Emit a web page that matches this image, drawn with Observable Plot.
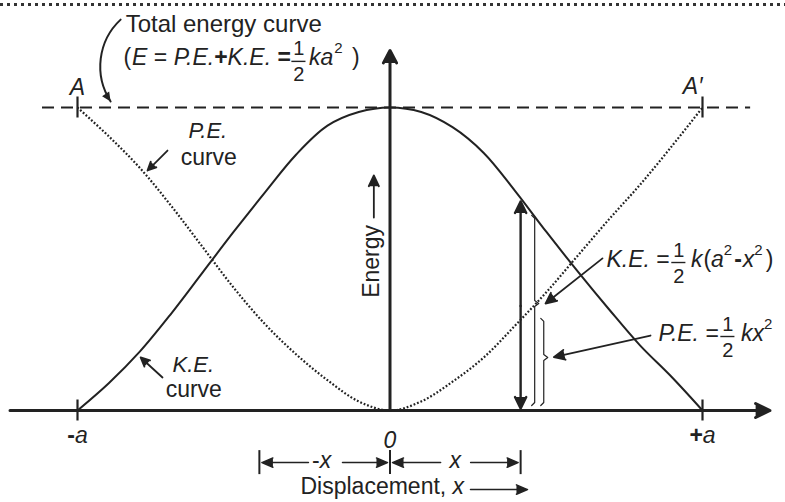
<!DOCTYPE html>
<html>
<head>
<meta charset="utf-8">
<script src="https://cdn.jsdelivr.net/npm/d3@7"></script>
<script src="https://cdn.jsdelivr.net/npm/@observablehq/plot@0.6"></script>
<style>
  body { margin: 0; background: #fff; }
  #chart { position: relative; width: 785px; height: 502px; }
  #chart::before {
    content: ""; position: absolute; left: 0; right: 0; top: 3px; height: 3px;
    background: repeating-linear-gradient(to right, #333 0 3px, transparent 3px 7px);
  }
</style>
</head>
<body>
<div id="chart"></div>
<script>
// Energy of a simple harmonic oscillator against displacement.
// Displacement is in units of the amplitude a, energy in units of E = ½ka².
const displacement   = [-1, -0.9, -0.8, -0.7, -0.6, -0.5, -0.4, -0.3, -0.2, -0.1, 0,
                         0.1, 0.2, 0.3, 0.4, 0.5, 0.6, 0.7, 0.8, 0.9, 1];
const kineticEnergy  = [0, 0.09, 0.195, 0.32, 0.455, 0.59, 0.72, 0.845, 0.94, 0.985, 1,
                        0.985, 0.935, 0.85, 0.725, 0.59, 0.46, 0.335, 0.215, 0.112, 0];
const potentialEnergy = [1, 0.905, 0.80, 0.675, 0.54, 0.405, 0.285, 0.185, 0.10, 0.03, 0,
                         0.03, 0.095, 0.175, 0.28, 0.39, 0.51, 0.63, 0.745, 0.87, 1];
const totalEnergy = 1;
const sampleX = 0.418;                 // the displacement x marked below the axis
const axisTicks = [-1, 0, 1];
const axisTickLabels = ["-a", "0", "+a"];
const turningPointLabels = ["A", "A′"];
// energy split at the sample displacement (K.E. brace, P.E. brace)
const braceColumns = [0.463, 0.492];
const braceTops    = [0.644, 0.304];
const braceCusps   = [0.353, 0.175];
const sampleKE = 0.69;

// ---- layout ----
const W = 785, H = 502;
const ML = 77, MR = 83, MT = 107, MB = 92;
const kx = (W - ML - MR) / 2, ky = (H - MT - MB);     // pixels per data unit
const ux = p => p / kx, uy = p => p / ky;
const INK = "#222";
const FONT = '"Liberation Sans", Arial, Helvetica, sans-serif';

const ctx = document.createElement("canvas").getContext("2d");
function textWidth(t, size, italic, bold) {
  ctx.font = `${italic ? "italic " : ""}${bold ? "bold " : ""}${size}px ${FONT}`;
  return ctx.measureText(t).width;
}
function label(x, y, t, o = {}) {
  return Plot.text([{x, y, t}], {
    x: "x", y: "y", text: "t", textAnchor: "start", lineAnchor: "bottom",
    fill: INK, fontFamily: FONT, fontSize: 23, ...o
  });
}
// Lays out a run of mixed italic / upright pieces, fractions and superscripts on one baseline.
function run(x, y, pieces, {size = 23, align = "start"} = {}) {
  const laid = [];
  let off = 0;
  for (const p of pieces) {
    off += p.gap ?? 0;
    if (p.frac) {
      const fs = p.size ?? size - 3;
      const w = Math.max(...p.frac.map(t => textWidth(t, fs))) + 5;
      laid.push({frac: p.frac, off, w, fs});
      off += w;
    } else if (p.sup) {
      const fs = p.size ?? 15;
      laid.push({t: p.sup, off, fs, dy: -(p.raise ?? 12)});
      off += textWidth(p.sup, fs);
    } else {
      const fs = p.size ?? size;
      laid.push({t: p.t, off, fs, i: p.i, b: p.b, dy: 0});
      off += textWidth(p.t, fs, p.i, p.b);
    }
  }
  const shift = align === "middle" ? -off / 2 : align === "end" ? -off : 0;
  const marks = [];
  for (const l of laid) {
    if (l.frac) {
      const cx = l.off + shift + l.w / 2;
      marks.push(label(x, y, l.frac[0], {dx: cx, dy: -10, fontSize: l.fs, textAnchor: "middle"}));
      marks.push(label(x, y, l.frac[1], {dx: cx, dy: 16, fontSize: l.fs, textAnchor: "middle"}));
      marks.push(Plot.ruleY([y], {x1: x + ux(l.off + shift + 1), x2: x + ux(l.off + shift + l.w - 1),
                                  dy: -4, stroke: INK, strokeWidth: 1.4}));
    } else {
      marks.push(label(x, y, l.t, {dx: l.off + shift, dy: l.dy, fontSize: l.fs,
        fontStyle: l.i ? "italic" : "normal", fontWeight: l.b ? "bold" : "normal"}));
    }
  }
  return marks;
}
function arrow(list, o = {}) {
  return Plot.arrow(list, {x1: "x1", y1: "y1", x2: "x2", y2: "y2",
    stroke: INK, fill: INK, strokeWidth: 1.6, headLength: 11, headAngle: 48, ...o});
}
function brace(xb, y0, y1, ym) {
  return [
    {x: xb - ux(3), y: y1}, {x: xb, y: y1 - uy(3)}, {x: xb, y: ym + uy(3)},
    {x: xb + ux(4), y: ym}, {x: xb, y: ym - uy(3)}, {x: xb, y: y0 + uy(3)}, {x: xb - ux(3), y: y0}
  ];
}

const curves = displacement.map((x, i) => ({x, ke: kineticEnergy[i], pe: potentialEnergy[i]}));
const rowY = -0.172, tick = uy(10.5), bar = uy(12);
const baseY = -0.106;
const braceBottom = 0.0165;

const marks = [
  // total energy level and turning points A, A'
  Plot.ruleY([totalEnergy], {x1: -1.112, x2: 1.154, stroke: INK, strokeWidth: 2, strokeDasharray: "12,7"}),
  Plot.ruleX([-1, 1], {y1: totalEnergy - tick, y2: totalEnergy + tick, stroke: INK, strokeWidth: 2.2}),
  // P.E. (dotted) and K.E. (solid) curves
  Plot.line(curves, {x: "x", y: "pe", curve: "catmull-rom", stroke: INK, strokeWidth: 2.2,
                     strokeLinecap: "butt", strokeDasharray: "1.8,1.9"}),
  Plot.line(curves, {x: "x", y: "ke", curve: "catmull-rom", stroke: INK, strokeWidth: 2}),
  // axes
  arrow([{x1: -1.216, y1: 0, x2: 1.216, y2: 0}], {strokeWidth: 3, headLength: 8, headAngle: 52}),
  arrow([{x1: 0, y1: 0, x2: 0, y2: 1.188}], {strokeWidth: 3, headLength: 7, headAngle: 56}),
  Plot.ruleX([-1, 1], {y1: -tick, y2: tick, stroke: INK, strokeWidth: 2.2}),
  // energy at the sample displacement
  arrow([{x1: sampleX, y1: sampleKE / 2, x2: sampleX, y2: sampleKE},
         {x1: sampleX, y1: sampleKE / 2, x2: sampleX, y2: 0.0066}], {strokeWidth: 2.4, headLength: 8, headAngle: 52}),
  ...braceColumns.map((xb, i) => Plot.line(brace(xb, braceBottom, braceTops[i], braceCusps[i]),
      {x: "x", y: "y", stroke: INK, strokeWidth: 1.2, strokeLinejoin: "round"})),
  // displacement markers below the axis
  Plot.ruleX([-sampleX, 0, sampleX], {y1: rowY - bar, y2: rowY + bar, stroke: INK, strokeWidth: 2}),
  arrow([
    {x1: -sampleX / 2 - 0.052, y1: rowY, x2: -sampleX + 0.008, y2: rowY},
    {x1: -sampleX / 2 + 0.057, y1: rowY, x2: -0.008, y2: rowY},
    {x1: sampleX / 2 - 0.047, y1: rowY, x2: 0.008, y2: rowY},
    {x1: sampleX / 2 + 0.049, y1: rowY, x2: sampleX - 0.008, y2: rowY},
    {x1: 0.2576, y1: -0.261, x2: 0.44, y2: -0.261}
  ], {strokeWidth: 1.5, headLength: 12, headAngle: 46}),
  // label pointers
  arrow([
    {x1: -0.712, y1: 0.858, x2: -0.776, y2: 0.792},
    {x1: -0.728, y1: 0.109, x2: -0.798, y2: 0.175},
    {x1: 0.68, y1: 0.502, x2: 0.4976, y2: 0.353},
    {x1: 0.8336, y1: 0.2475, x2: 0.5242, y2: 0.176},
    {x1: -0.0517, y1: 0.637, x2: -0.0517, y2: 0.776}
  ], {strokeWidth: 1.8, headLength: 10, headAngle: 50}),
  // curved pointer from the total-energy note to the dashed level
  Plot.arrow([{x1: -0.862, y1: 1.290, x2: -0.894, y2: 1.020}], {x1: "x1", y1: "y1", x2: "x2", y2: "y2",
    bend: -40, headLength: 0, stroke: INK, strokeWidth: 2}),
  Plot.arrow([{x1: -0.947, y1: 1.103, x2: -0.894, y2: 1.020}], {x1: "x1", y1: "y1", x2: "x2", y2: "y2",
    stroke: "none", fill: INK, strokeWidth: 1.5, headLength: 12, headAngle: 50}),

  // ---- text ----
  ...run(-0.846, 1.249, [{t: "Total energy curve"}], {size: 24}),
  ...run(-0.853, 1.139, [
    {t: "("}, {t: "E", i: 1, gap: 1}, {t: " = "}, {t: "P.E.", i: 1}, {t: "+", b: 1},
    {t: "K.E.", i: 1}, {t: " =", b: 1}, {frac: ["1", "2"]}, {t: "ka", i: 1, gap: 2},
    {sup: "2", gap: 1}, {t: " )", gap: 3}
  ]),
  ...run(0.6928, 0.4752, [
    {t: "K.E.", i: 1}, {t: " ="}, {frac: ["1", "2"], gap: 1}, {t: "k", i: 1, gap: 4}, {t: "(", gap: 1},
    {t: "a", i: 1}, {sup: "2"}, {t: "-", b: 1, gap: 2}, {t: "x", i: 1, gap: 1}, {sup: "2"}, {t: ")", gap: 3}
  ]),
  ...run(0.8592, 0.231, [
    {t: "P.E.", i: 1}, {t: " ="}, {frac: ["1", "2"], gap: 1}, {t: "kx", i: 1, gap: 5}, {sup: "2"}
  ]),
  ...run(-0.645, 0.898, [{t: "P.E.", i: 1}], {size: 22}),
  ...run(-0.670, 0.809, [{t: "curve"}], {size: 23}),
  ...run(-0.696, 0.1287, [{t: "K.E.", i: 1}], {size: 22}),
  ...run(-0.718, 0.0462, [{t: "curve"}], {size: 23}),
  ...run(-1, 1.04, [{t: turningPointLabels[0], i: 1}], {align: "middle"}),
  ...run(1, 1.046, [{t: turningPointLabels[1], i: 1}], {align: "end"}),
  ...axisTicks.flatMap((v, k) => {
    const s = axisTickLabels[k];
    const pieces = /^[+-]/.test(s) ? [{t: s[0], b: 1}, {t: s.slice(1), i: 1}] : [{t: s, i: 1}];
    return run(v, v === 0 ? -0.125 : baseY, pieces, {align: "middle"});
  }),
  ...run(-sampleX / 2 - ux(3), -0.191, [{t: "-"}, {t: "x", i: 1}], {align: "middle"}),
  ...run(sampleX / 2, -0.191, [{t: "x", i: 1}], {align: "middle"}),
  ...run(-0.2864, -0.274, [{t: "Displacement, "}, {t: "x", i: 1}]),
  label(-0.035, 0.492, "Energy", {rotate: -90, textAnchor: "middle", lineAnchor: "bottom"})
];

const chart = Plot.plot({
  width: W, height: H,
  marginLeft: ML, marginRight: MR, marginTop: MT, marginBottom: MB,
  x: {domain: [-1, 1], axis: null},
  y: {domain: [0, 1], axis: null},
  style: {background: "transparent", color: INK, fontFamily: FONT},
  marks
});
document.getElementById("chart").append(chart);
</script>
</body>
</html>
